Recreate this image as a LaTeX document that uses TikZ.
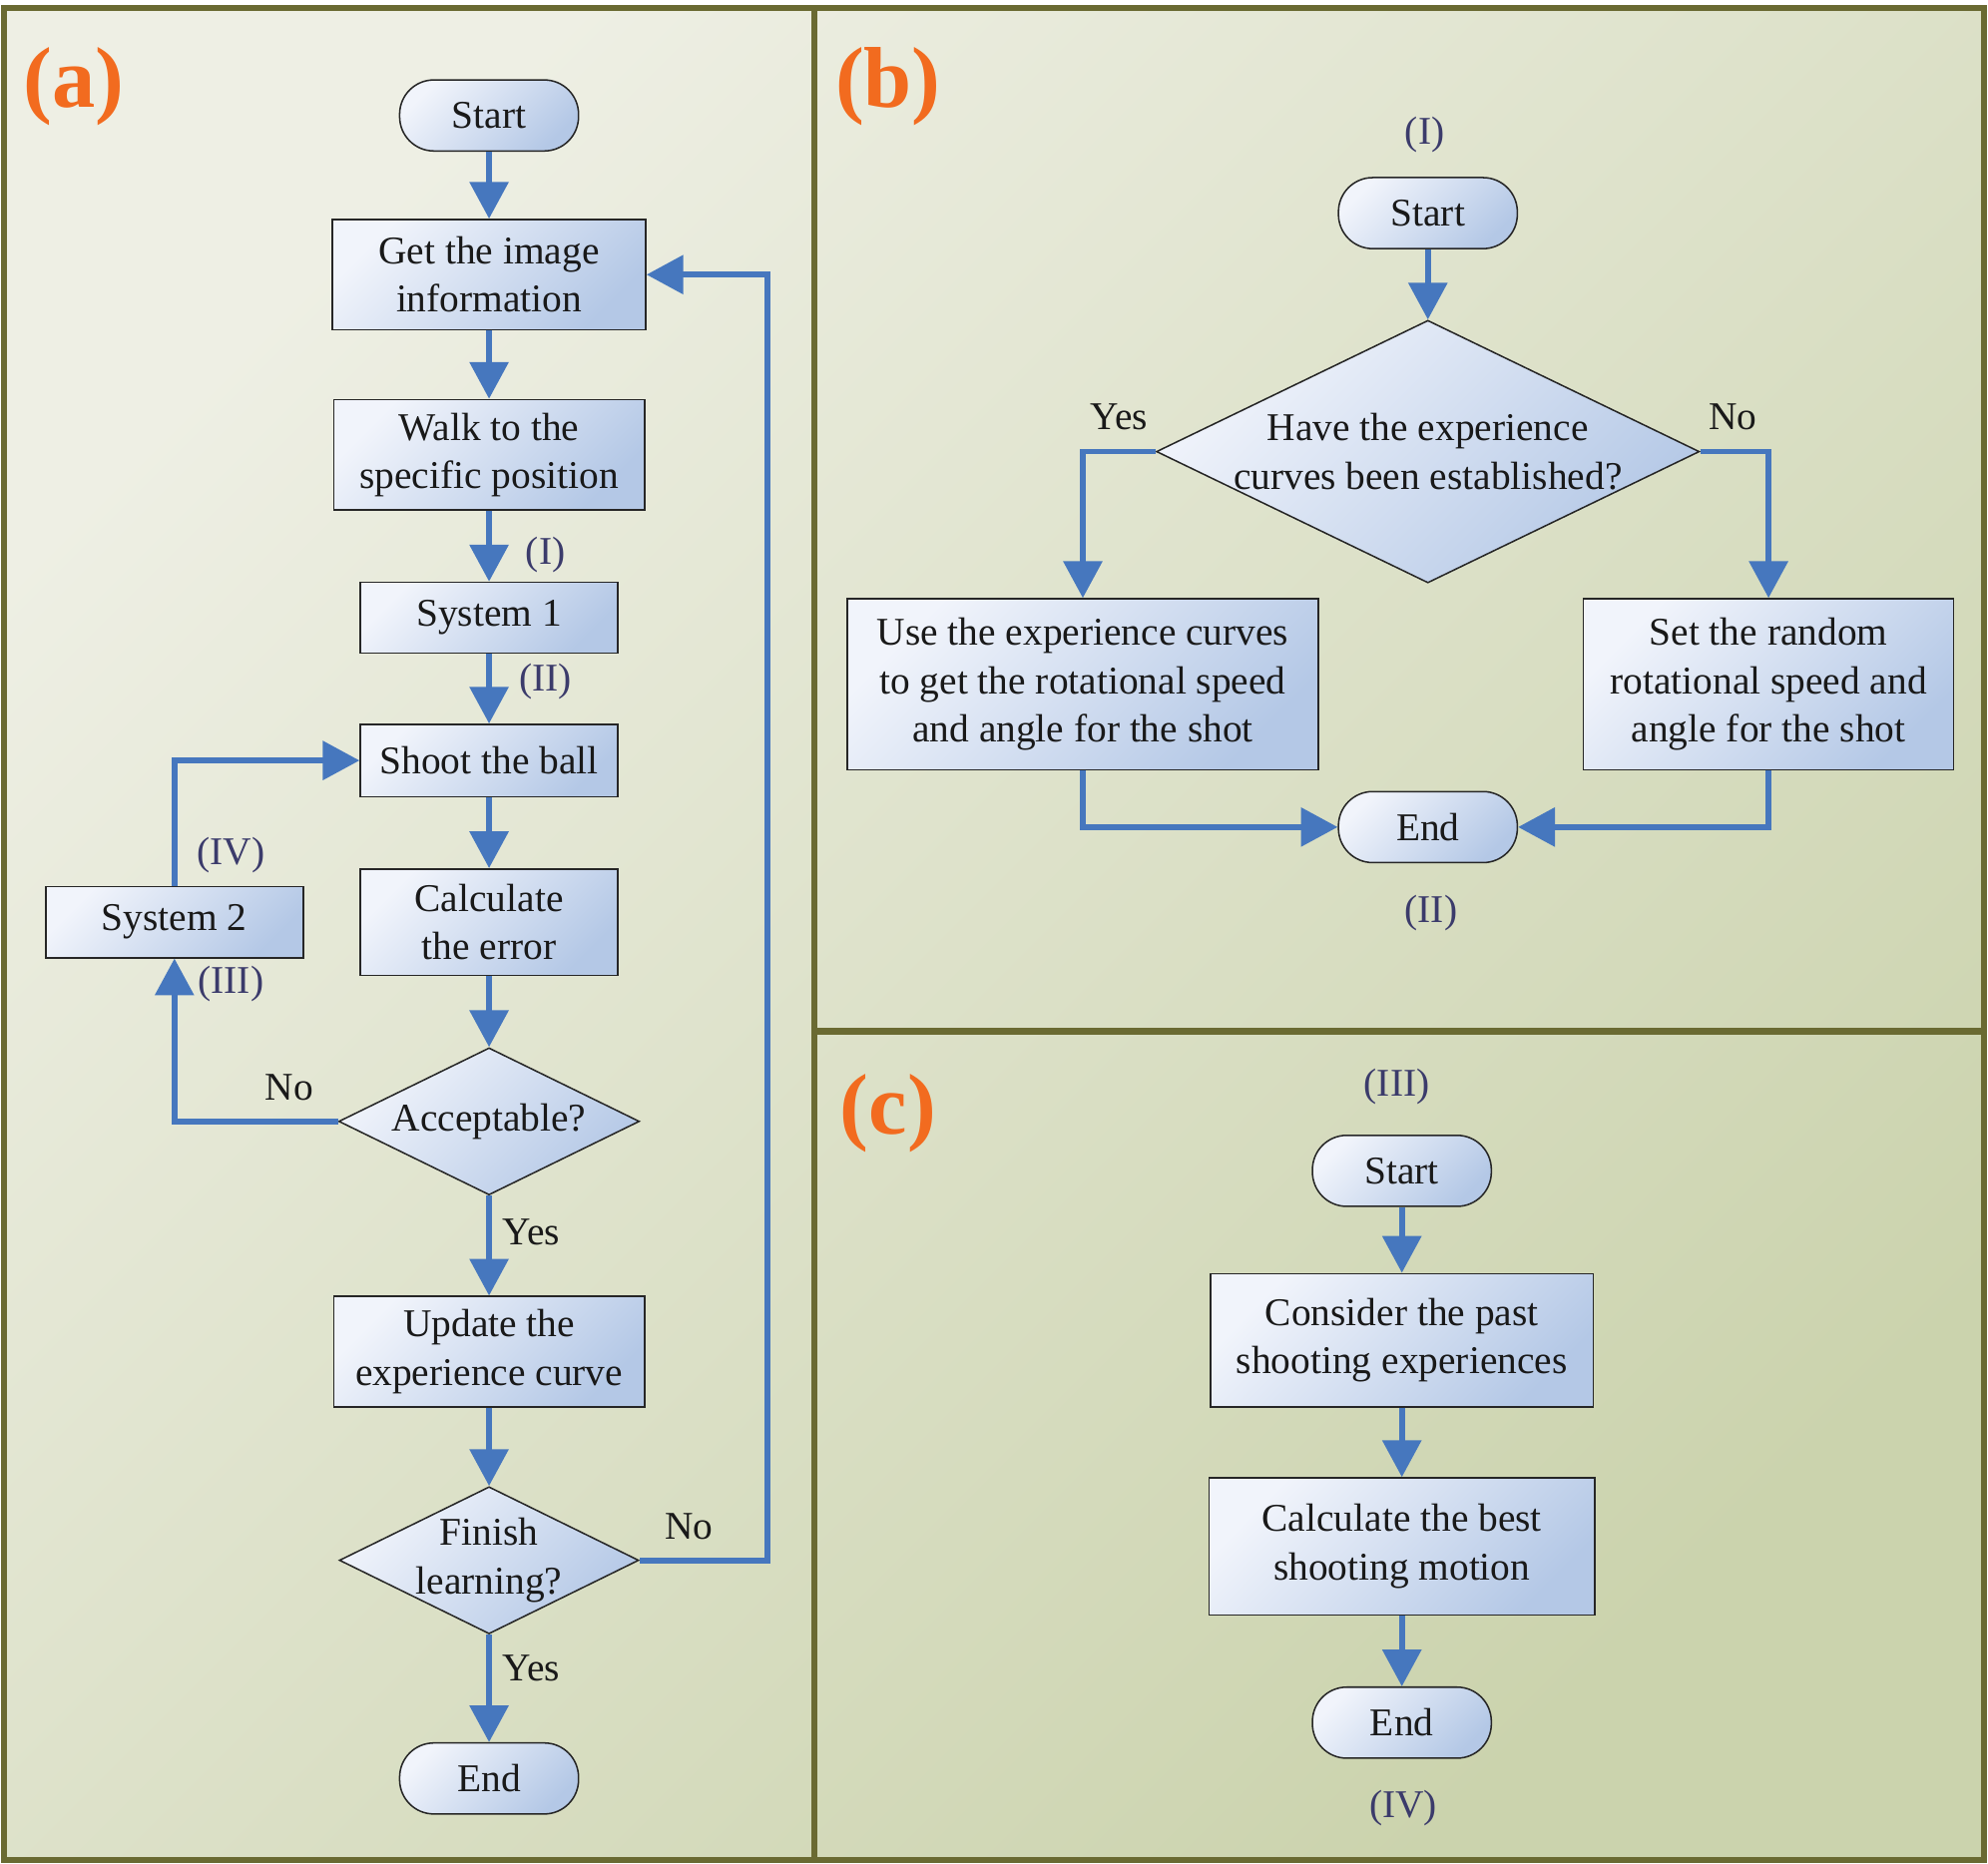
\documentclass[tikz,border=0pt]{standalone}
\usepackage{fontspec}
\setmainfont{Liberation Serif}
\usetikzlibrary{arrows.meta,shapes.geometric}
\definecolor{bgA}{HTML}{EEEFE4}
\definecolor{bgB}{HTML}{CBD3AD}
\definecolor{framec}{HTML}{6A6A32}
\definecolor{nA}{HTML}{F1F4FB}
\definecolor{nB}{HTML}{B4C8E6}
\definecolor{arrc}{HTML}{4677BE}
\definecolor{labc}{HTML}{3B3B6B}
\definecolor{orng}{HTML}{F26B1F}
\newcommand{\mfont}{\fontsize{15.5pt}{19pt}\selectfont}
\tikzset{
  fillshade/.style={draw=black!85, line width=0.6pt, top color=nA, bottom color=nB, shading angle=45},
  procbox/.style={fillshade, rectangle, align=center, inner sep=0pt, font=\mfont, text=black!90},
  termbox/.style={procbox, rounded corners=13.5pt, minimum width=70.5pt, minimum height=28pt},
  decision/.style={fillshade, diamond, inner sep=0pt},
  dtext/.style={align=center, inner sep=0pt, font=\mfont, text=black!90},
  flow/.style={draw=arrc, line width=2.3pt, -{Triangle[length=14.5pt,width=15pt]}},
  lbl/.style={font=\mfont, text=labc, inner sep=0pt},
  yn/.style={font=\mfont, text=black!90, inner sep=0pt},
  panel/.style={font=\fontsize{34pt}{34pt}\selectfont\bfseries, text=orng, inner sep=0pt}
}
\begin{document}
\begin{tikzpicture}[x=0.5pt,y=-0.5pt]
\useasboundingbox (0,0) rectangle (1567,1469);
\fill[white] (0,0) rectangle (1567,1469);
\shade[top color=bgA, bottom color=bgB, shading angle=45] (3,6.5) rectangle (1563.5,1466.5);
\draw[framec, line width=2.4pt] (3,6.5) rectangle (1563.5,1466.5);
\draw[framec, line width=2.4pt] (642,6.5) -- (642,1466.5);
\draw[framec, line width=2.4pt] (642,813) -- (1563.5,813);

% panel labels
\node[panel] (pa) at (58,68) {(a)};
\node[panel] (pb) at (700,68) {(b)};
\node[panel] (pc) at (700,878) {(c)};

% ---------- panel (a)
\node[termbox] (starta) at (385.5,91) {Start};
\node[procbox, minimum width=123.5pt, minimum height=43.5pt] (getimg) at (385.5,216.5) {Get the image\\information};
\node[procbox, minimum width=122.5pt, minimum height=43.5pt] (walk) at (385.5,358.5) {Walk to the\\specific position};
\node[procbox, minimum width=101.5pt, minimum height=28pt] (sys1) at (385.5,487) {System 1};
\node[procbox, minimum width=101.5pt, minimum height=28.5pt] (shoot) at (385.5,599.5) {Shoot the ball};
\node[procbox, minimum width=101.5pt, minimum height=42pt] (calc) at (385.5,727) {Calculate\\the error};
\node[decision, minimum width=118.5pt, minimum height=58pt] (acc) at (385.5,884) {};
\node[dtext] (acct) at (acc.center) {Acceptable?};
\node[procbox, minimum width=122.5pt, minimum height=43.5pt] (update) at (385.5,1065.5) {Update the\\experience curve};
\node[decision, minimum width=118pt, minimum height=58pt] (finish) at (385.5,1230) {};
\node[dtext] (finisht) at (finish.center) {Finish\\learning?};
\node[termbox] (enda) at (385.5,1402) {End};
\node[procbox, minimum width=101.5pt, minimum height=28pt] (sys2) at (137.5,727) {System 2};
\coordinate (retx) at (605,0);

\draw[flow] (starta) -- (getimg);
\draw[flow] (getimg) -- (walk);
\draw[flow] (walk) -- (sys1);
\draw[flow] (sys1) -- (shoot);
\draw[flow] (shoot) -- (calc);
\draw[flow] (calc) -- (acc);
\draw[flow] (acc) -- (update);
\draw[flow] (update) -- (finish);
\draw[flow] (finish) -- (enda);
\draw[flow] (acc.west) -| (sys2.south);
\draw[flow] (sys2.north) |- (shoot.west);
\draw[flow] (finish.east) -- (finish.east -| retx) -- (getimg.east -| retx) -- (getimg.east);

\node[lbl] (la1) at (430,437) {(I)};
\node[lbl] (la2) at (430,537) {(II)};
\node[lbl] (la4) at (182,674) {(IV)};
\node[lbl] (la3) at (182,776) {(III)};
\node[yn] (ano1) at (228,857) {No};
\node[yn] (ayes1) at (419,971) {Yes};
\node[yn] (ano2) at (543,1203) {No};
\node[yn] (ayes2) at (419,1315) {Yes};

% ---------- panel (b)
\node[lbl] (lb1) at (1123,106) {(I)};
\node[termbox] (startb) at (1125.5,168) {Start};
\node[decision, minimum width=214pt, minimum height=103.5pt] (diab) at (1125.5,356) {};
\node[dtext] (diabt) at (diab.center) {Have the experience\\curves been established?};
\node[procbox, minimum width=185.5pt, minimum height=67.5pt] (use) at (853.5,539.5) {Use the experience curves\\to get the rotational speed\\and angle for the shot};
\node[procbox, minimum width=146pt, minimum height=67.5pt] (setr) at (1394,539.5) {Set the random\\rotational speed and\\angle for the shot};
\node[termbox] (endb) at (1125.5,652) {End};
\node[lbl] (lb2) at (1128,720) {(II)};
\node[yn] (byes) at (882,329) {Yes};
\node[yn] (bno) at (1366,329) {No};

\draw[flow] (startb) -- (diab);
\draw[flow] (diab.west) -| (use.north);
\draw[flow] (diab.east) -| (setr.north);
\draw[flow] (use.south) |- (endb.west);
\draw[flow] (setr.south) |- (endb.east);

% ---------- panel (c)
\node[lbl] (lc1) at (1101,857) {(III)};
\node[termbox] (startc) at (1105,923) {Start};
\node[procbox, minimum width=151pt, minimum height=52.5pt] (consider) at (1105,1056.5) {Consider the past\\shooting experiences};
\node[procbox, minimum width=152pt, minimum height=54pt] (calcbest) at (1105,1219) {Calculate the best\\shooting motion};
\node[termbox] (endc) at (1105,1358) {End};
\node[lbl] (lc2) at (1106,1425) {(IV)};

\draw[flow] (startc) -- (consider);
\draw[flow] (consider) -- (calcbest);
\draw[flow] (calcbest) -- (endc);
\end{tikzpicture}
\end{document}
